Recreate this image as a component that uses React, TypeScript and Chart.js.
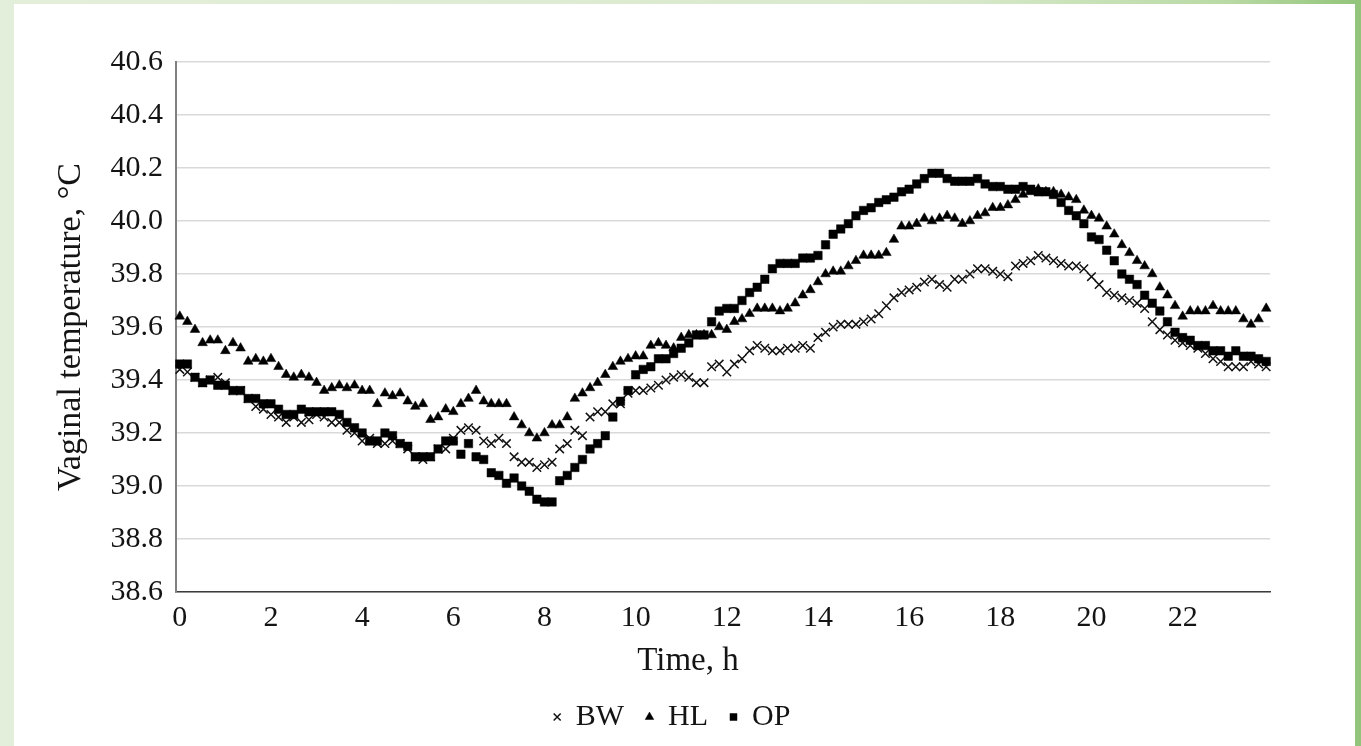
import React, { useEffect, useRef } from 'react';
import { Chart, registerables } from 'chart.js';

Chart.register(...registerables);

// Time of day (h), one reading every 10 minutes
const timeHours: number[] = Array.from({ length: 144 }, (_, i) => i / 6);

const seriesNames = ['BW', 'HL', 'OP'];

const bwValues = [
  39.44, 39.43, 39.41, 39.39, 39.40, 39.41, 39.39, 39.36, 39.36, 39.33,
  39.30, 39.29, 39.27, 39.26, 39.24, 39.26, 39.24, 39.25, 39.27, 39.26,
  39.24, 39.24, 39.21, 39.20, 39.17, 39.18, 39.16, 39.16, 39.17, 39.16,
  39.14, 39.11, 39.10, 39.11, 39.14, 39.14, 39.18, 39.21, 39.22, 39.21,
  39.17, 39.16, 39.18, 39.16, 39.11, 39.09, 39.09, 39.07, 39.08, 39.09,
  39.14, 39.16, 39.21, 39.19, 39.26, 39.28, 39.28, 39.31, 39.31, 39.35,
  39.36, 39.36, 39.37, 39.38, 39.40, 39.41, 39.42, 39.41, 39.39, 39.39,
  39.45, 39.46, 39.43, 39.46, 39.48, 39.51, 39.53, 39.52, 39.51, 39.51,
  39.52, 39.52, 39.53, 39.52, 39.56, 39.58, 39.60, 39.61, 39.61, 39.61,
  39.62, 39.63, 39.65, 39.68, 39.71, 39.73, 39.74, 39.75, 39.77, 39.78,
  39.76, 39.75, 39.78, 39.78, 39.80, 39.82, 39.82, 39.81, 39.80, 39.79,
  39.83, 39.84, 39.85, 39.87, 39.86, 39.85, 39.84, 39.83, 39.83, 39.82,
  39.79, 39.76, 39.73, 39.72, 39.71, 39.70, 39.69, 39.67, 39.62, 39.59,
  39.57, 39.55, 39.54, 39.53, 39.52, 39.50, 39.48, 39.47, 39.45, 39.45,
  39.45, 39.47, 39.46, 39.45,
];

const hlValues = [
  39.64, 39.62, 39.59, 39.54, 39.55, 39.55, 39.51, 39.54, 39.52, 39.47,
  39.48, 39.47, 39.48, 39.45, 39.42, 39.41, 39.42, 39.41, 39.39, 39.36,
  39.37, 39.38, 39.37, 39.38, 39.36, 39.36, 39.31, 39.35, 39.34, 39.35,
  39.32, 39.30, 39.31, 39.25, 39.26, 39.29, 39.28, 39.31, 39.33, 39.36,
  39.32, 39.31, 39.31, 39.31, 39.26, 39.23, 39.20, 39.18, 39.20, 39.23,
  39.23, 39.26, 39.33, 39.35, 39.37, 39.39, 39.42, 39.45, 39.47, 39.48,
  39.49, 39.49, 39.53, 39.54, 39.53, 39.52, 39.56, 39.57, 39.57, 39.57,
  39.57, 39.60, 39.59, 39.62, 39.63, 39.65, 39.67, 39.67, 39.67, 39.66,
  39.67, 39.69, 39.72, 39.74, 39.77, 39.80, 39.81, 39.81, 39.83, 39.85,
  39.87, 39.87, 39.87, 39.88, 39.93, 39.98, 39.98, 39.99, 40.01, 40.00,
  40.01, 40.02, 40.01, 39.99, 40.00, 40.02, 40.03, 40.05, 40.05, 40.06,
  40.08, 40.10, 40.11, 40.12, 40.11, 40.11, 40.10, 40.09, 40.08, 40.04,
  40.02, 40.01, 39.98, 39.95, 39.91, 39.88, 39.85, 39.83, 39.80, 39.75,
  39.72, 39.68, 39.64, 39.66, 39.66, 39.66, 39.68, 39.66, 39.66, 39.66,
  39.63, 39.61, 39.63, 39.67,
];

const opValues = [
  39.46, 39.46, 39.41, 39.39, 39.40, 39.38, 39.38, 39.36, 39.36, 39.33,
  39.33, 39.31, 39.31, 39.29, 39.27, 39.27, 39.29, 39.28, 39.28, 39.28,
  39.28, 39.27, 39.24, 39.22, 39.20, 39.17, 39.17, 39.20, 39.19, 39.16,
  39.15, 39.11, 39.11, 39.11, 39.14, 39.17, 39.17, 39.12, 39.16, 39.11,
  39.10, 39.05, 39.04, 39.01, 39.03, 39.00, 38.98, 38.95, 38.94, 38.94,
  39.02, 39.04, 39.07, 39.10, 39.14, 39.16, 39.19, 39.26, 39.32, 39.36,
  39.42, 39.44, 39.45, 39.48, 39.48, 39.50, 39.52, 39.54, 39.57, 39.57,
  39.62, 39.66, 39.67, 39.67, 39.70, 39.73, 39.75, 39.78, 39.82, 39.84,
  39.84, 39.84, 39.86, 39.86, 39.87, 39.91, 39.95, 39.97, 39.99, 40.02,
  40.04, 40.05, 40.07, 40.08, 40.09, 40.11, 40.12, 40.14, 40.16, 40.18,
  40.18, 40.16, 40.15, 40.15, 40.15, 40.16, 40.14, 40.13, 40.13, 40.12,
  40.12, 40.13, 40.12, 40.11, 40.11, 40.10, 40.07, 40.04, 40.02, 39.99,
  39.94, 39.93, 39.89, 39.85, 39.80, 39.78, 39.76, 39.72, 39.69, 39.66,
  39.62, 39.58, 39.56, 39.55, 39.53, 39.53, 39.51, 39.51, 39.49, 39.51,
  39.49, 39.49, 39.48, 39.47,
];

const yMin = 38.6;
const yMax = 40.6;
const yStep = 0.2;
const xTickEveryHours = 2;

const xAxisTitle = 'Time, h';
const yAxisTitle = 'Vaginal temperature, \u00B0C';

const FONT = '"Liberation Serif", "Times New Roman", serif';
const TEXT = '#141414';

const xTitlePlugin = {
  id: 'xTitleDraw',
  afterDraw(chart: any) {
    const { ctx, chartArea } = chart;
    ctx.save();
    ctx.font = `33px ${FONT}`;
    ctx.fillStyle = TEXT;
    ctx.textAlign = 'center';
    ctx.textBaseline = 'middle';
    const x = chartArea.left + (chartArea.right - chartArea.left) * 0.468;
    ctx.fillText(xAxisTitle, x, chartArea.bottom + 69);
    ctx.restore();
  },
};

export default function App() {
  const canvasRef = useRef<HTMLCanvasElement>(null);

  useEffect(() => {
    document.body.style.margin = '0';
    const canvas = canvasRef.current;
    if (!canvas) return;

    const chart = new Chart(canvas, {
      type: 'line',
      data: {
        labels: timeHours,
        datasets: [
          {
            label: seriesNames[0],
            data: bwValues,
            showLine: false,
            pointStyle: 'crossRot',
            pointRadius: 6,
            pointHoverRadius: 6,
            pointBorderWidth: 1.5,
            pointBorderColor: '#111',
            pointBackgroundColor: '#111',
            borderColor: '#111',
            backgroundColor: '#111',
            order: 3,
          },
          {
            label: seriesNames[1],
            data: hlValues,
            showLine: false,
            pointStyle: 'triangle',
            pointRadius: 5.6,
            pointHoverRadius: 5.6,
            pointBorderWidth: 0.5,
            pointBorderColor: '#000',
            pointBackgroundColor: '#000',
            borderColor: '#000',
            backgroundColor: '#000',
            order: 2,
          },
          {
            label: seriesNames[2],
            data: opValues,
            showLine: false,
            pointStyle: 'rect',
            pointRadius: 6,
            pointHoverRadius: 6,
            pointBorderWidth: 0.5,
            pointBorderColor: '#000',
            pointBackgroundColor: '#000',
            borderColor: '#000',
            backgroundColor: '#000',
            order: 1,
          },
        ],
      },
      options: {
        responsive: false,
        animation: false,
        layout: { padding: { left: 0, right: 25, top: 58, bottom: 4 } },
        plugins: {
          tooltip: { enabled: false },
          legend: {
            position: 'bottom',
            labels: {
              usePointStyle: true,
              boxWidth: 7,
              boxHeight: 7,
              padding: 22,
              color: TEXT,
              font: { family: FONT, size: 30 },
              sort: (a: any, b: any) => a.datasetIndex - b.datasetIndex,
            },
          },
        },
        scales: {
          x: {
            type: 'category',
            offset: true,
            grid: { display: false, drawTicks: false },
            border: { display: true, color: '#3c3c3c', width: 1.5 },
            ticks: {
              autoSkip: false,
              maxRotation: 0,
              minRotation: 0,
              padding: 8,
              color: TEXT,
              font: { family: FONT, size: 30 },
              callback: (_v: any, index: number) => {
                const h = timeHours[index];
                return Number.isInteger(h) && h % xTickEveryHours === 0 ? String(h) : '';
              },
            },
            afterFit: (s: any) => {
              s.height = 88;
            },
          },
          y: {
            type: 'linear',
            position: 'left',
            min: yMin,
            max: yMax,
            grid: { color: '#d9d9d9', lineWidth: 1.5, drawTicks: false },
            border: { display: true, color: '#808080', width: 2 },
            ticks: {
              stepSize: yStep,
              padding: 13,
              color: TEXT,
              font: { family: FONT, size: 30 },
              callback: (v: any) => Number(v).toFixed(1),
            },
            title: {
              display: true,
              text: yAxisTitle,
              color: TEXT,
              font: { family: FONT, size: 34 },
              padding: { top: 37, bottom: 0 },
            },
            afterFit: (s: any) => {
              s.width = 162;
            },
          },
          yRight: {
            type: 'linear',
            position: 'right',
            display: true,
            grid: { display: false, drawTicks: false },
            border: { display: false },
            ticks: { display: false },
            afterFit: (s: any) => {
              s.width = 60;
            },
          },
        },
      },
      plugins: [xTitlePlugin],
    });

    return () => chart.destroy();
  }, []);

  return (
    <div
      style={{
        position: 'relative',
        width: 1361,
        height: 746,
        overflow: 'hidden',
        background: 'linear-gradient(90deg, #e4efdb 0%, #d8e9cb 70%, #b9daa5 90%, #92c47a 100%)',
      }}
    >
      <div
        style={{
          position: 'absolute',
          left: 14,
          top: 4,
          width: 1341,
          height: 742,
          background: '#ffffff',
        }}
      >
        <canvas ref={canvasRef} width={1341} height={742} style={{ display: 'block', width: 1341, height: 742 }} />
      </div>
    </div>
  );
}
